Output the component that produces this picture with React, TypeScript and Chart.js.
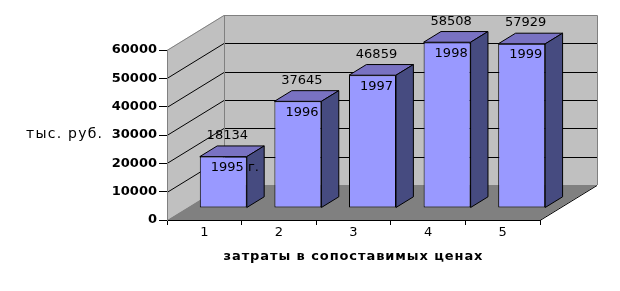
import { useEffect, useRef } from "react";
import { Chart, registerables } from "chart.js";

Chart.register(...registerables);

const categories = ["1", "2", "3", "4", "5"];
const values = [18134, 37645, 46859, 58508, 57929];
const yearLabels = ["1995 г.", "1996", "1997", "1998", "1999"];
const yTicks = [0, 10000, 20000, 30000, 40000, 50000, 60000];
const yTitle = "тыс. руб.";
const xTitle = "затраты в сопоставимых ценах";

const FONT = "'DejaVu Sans', Verdana, sans-serif";
const DX = 57;
const DY = -35;
const BAR_FRONT = 0.334;
const BAR_DEPTH = 0.305;
const WALL = "#C0C0C0";
const FLOOR = "#808080";
const EDGE = "#808080";
const BAR_FRONT_COLOR = "#9999FF";
const BAR_TOP_COLOR = "#7972C2";
const BAR_SIDE_COLOR = "#464B80";

function fittedText(ctx: CanvasRenderingContext2D, text: string, x: number, y: number, width: number, font: string, align: CanvasTextAlign) {
  ctx.save();
  ctx.font = font;
  (ctx as any).letterSpacing = "0px";
  const w = ctx.measureText(text).width;
  const n = Math.max(1, text.length - 1);
  const sp = Math.max(0, (width - w) / n);
  (ctx as any).letterSpacing = sp + "px";
  ctx.fillStyle = "#000";
  ctx.textBaseline = "middle";
  let left = x;
  if (align === "center") left = x - width / 2;
  else if (align === "right") left = x - width;
  ctx.textAlign = "left";
  ctx.fillText(text, left, y);
  ctx.restore();
}

const threeD = {
  id: "threeD",
  beforeDraw(chart: any) {
    const { ctx, chartArea: a, scales } = chart;
    const ys = scales.y;
    const L = a.left, R = a.right, T = a.top, B = a.bottom;
    ctx.save();
    // left wall
    ctx.fillStyle = WALL;
    ctx.beginPath();
    ctx.moveTo(L, T);
    ctx.lineTo(L + DX, T + DY);
    ctx.lineTo(L + DX, B + DY);
    ctx.lineTo(L, B);
    ctx.closePath();
    ctx.fill();
    // back wall
    ctx.fillRect(L + DX, T + DY, R - L, B - T);
    // floor
    ctx.fillStyle = FLOOR;
    ctx.beginPath();
    ctx.moveTo(L, B);
    ctx.lineTo(R, B);
    ctx.lineTo(R + DX, B + DY);
    ctx.lineTo(L + DX, B + DY);
    ctx.closePath();
    ctx.fill();
    // gridlines
    ctx.strokeStyle = "#000";
    ctx.lineWidth = 1;
    for (const v of yTicks) {
      if (v <= ys.min || v >= ys.max) continue;
      const yy = Math.round(ys.getPixelForValue(v));
      ctx.beginPath();
      ctx.moveTo(L, yy + 0.5);
      ctx.lineTo(L + DX, yy + DY + 0.5);
      ctx.lineTo(R + DX, yy + DY + 0.5);
      ctx.stroke();
    }
    // edges
    ctx.strokeStyle = EDGE;
    ctx.beginPath();
    ctx.moveTo(L, T + 0.5);
    ctx.lineTo(L + DX, T + DY + 0.5);
    ctx.lineTo(R + DX + 0.5, T + DY + 0.5);
    ctx.lineTo(R + DX + 0.5, B + DY);
    ctx.moveTo(L + DX + 0.5, T + DY);
    ctx.lineTo(L + DX + 0.5, B + DY);
    ctx.stroke();
    ctx.strokeStyle = "#000";
    ctx.beginPath();
    ctx.moveTo(R, B + 0.5);
    ctx.lineTo(R + DX, B + DY + 0.5);
    ctx.stroke();
    ctx.restore();
  },
  beforeDatasetDraw(chart: any) {
    chart.ctx.save();
    chart.ctx.translate(Math.round(DX * BAR_FRONT), Math.round(DY * BAR_FRONT));
  },
  afterDatasetDraw(chart: any) {
    chart.ctx.restore();
  },
  afterDatasetsDraw(chart: any) {
    const { ctx } = chart;
    const ox = Math.round(DX * BAR_FRONT);
    const oy = Math.round(DY * BAR_FRONT);
    const ddx = DX * BAR_DEPTH;
    const ddy = DY * BAR_DEPTH;
    const meta = chart.getDatasetMeta(0);
    ctx.save();
    ctx.lineWidth = 1;
    ctx.strokeStyle = "#000";
    ctx.lineJoin = "miter";
    meta.data.forEach((el: any, i: number) => {
      const p = el.getProps(["x", "y", "base", "width"], true);
      const left = p.x - p.width / 2 + ox;
      const right = p.x + p.width / 2 + ox;
      const top = p.y + oy;
      const bottom = p.base + oy;
      // top face
      ctx.fillStyle = BAR_TOP_COLOR;
      ctx.beginPath();
      ctx.moveTo(left, top);
      ctx.lineTo(right, top);
      ctx.lineTo(right + ddx, top + ddy);
      ctx.lineTo(left + ddx, top + ddy);
      ctx.closePath();
      ctx.fill();
      ctx.stroke();
      // side face
      ctx.fillStyle = BAR_SIDE_COLOR;
      ctx.beginPath();
      ctx.moveTo(right, top);
      ctx.lineTo(right + ddx, top + ddy);
      ctx.lineTo(right + ddx, bottom + ddy);
      ctx.lineTo(right, bottom);
      ctx.closePath();
      ctx.fill();
      ctx.stroke();
      // labels
      ctx.fillStyle = "#000";
      ctx.font = "13px " + FONT;
      ctx.textBaseline = "middle";
      ctx.textAlign = "center";
      ctx.fillText(String(values[i]), p.x + ox + 4, top - 21);
      ctx.textAlign = "left";
      ctx.fillText(yearLabels[i], left + 11, top + 11);
    });
    ctx.restore();
  },
  afterDraw(chart: any) {
    const { ctx } = chart;
    fittedText(ctx, yTitle, 102, 134, 76, "14px " + FONT, "right");
    fittedText(ctx, xTitle, 353, 257, 259, "bold 13px " + FONT, "center");
  },
};

export default function App() {
  const ref = useRef<HTMLCanvasElement>(null);
  useEffect(() => {
    document.body.style.margin = "0";
    const canvas = ref.current!;
    const chart = new Chart(canvas, {
      type: "bar",
      data: {
        labels: categories,
        datasets: [
          {
            data: values,
            backgroundColor: BAR_FRONT_COLOR,
            borderColor: "#000",
            borderWidth: 1,
            borderSkipped: false,
            barPercentage: 0.63,
            categoryPercentage: 1,
            clip: false as any,
          },
        ],
      },
      options: {
        responsive: false,
        animation: false,
        devicePixelRatio: 1,
        layout: { padding: { left: 0, top: 50, right: 80, bottom: 0 } },
        plugins: { legend: { display: false }, tooltip: { enabled: false }, title: { display: false } },
        scales: {
          x: {
            grid: { drawOnChartArea: false, drawTicks: true, tickLength: 5, color: "#000", offset: true },
            border: { display: true, color: "#000" },
            ticks: { color: "#000", font: { family: FONT, size: 13 }, padding: 0, maxRotation: 0 },
            afterFit: (s: any) => { s.height = 71; },
          },
          y: {
            min: 0,
            max: 60000,
            afterBuildTicks: (s: any) => { s.ticks = yTicks.map((v) => ({ value: v })); },
            ticks: { color: "#000", font: { family: FONT, size: 13, weight: "bold" }, padding: 2, callback: (v: any) => String(v) },
            grid: { drawOnChartArea: false, tickLength: 8, color: "#000" },
            border: { display: true, color: EDGE },
            afterFit: (s: any) => { s.width = 167; },
          },
        },
      },
      plugins: [threeD],
    });
    return () => chart.destroy();
  }, []);
  return (
    <div style={{ position: "absolute", left: 0, top: 0, width: 620, height: 291 }}>
      <canvas ref={ref} width={620} height={291} style={{ display: "block" }} />
    </div>
  );
}
